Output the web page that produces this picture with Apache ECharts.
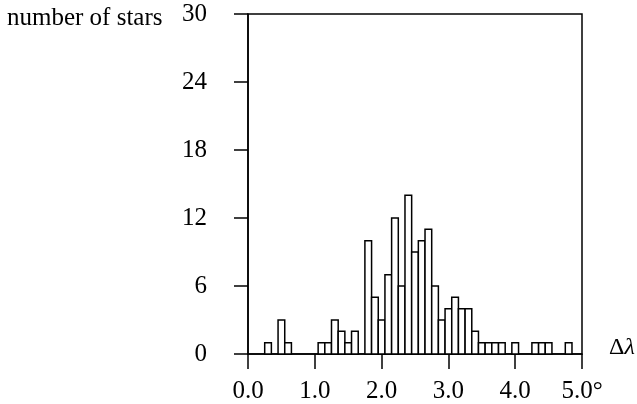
<!DOCTYPE html>
<html>
<head>
<meta charset="utf-8">
<script src="https://cdn.jsdelivr.net/npm/echarts@6/dist/echarts.min.js"></script>
<style>
  html, body { margin: 0; padding: 0; background: #fff; }
  #chart { width: 637px; height: 404px; }
</style>
</head>
<body>
<div id="chart"></div>
<script>
// Histogram of Δλ in 0.1° bins: bin centre and number of stars
const delta = [0.3, 0.5, 0.6, 1.1, 1.2, 1.3, 1.4, 1.5, 1.6, 1.8, 1.9, 2.0, 2.1, 2.2, 2.3, 2.4, 2.5, 2.6, 2.7, 2.8, 2.9, 3.0, 3.1, 3.2, 3.3, 3.4, 3.5, 3.6, 3.7, 3.8, 4.0, 4.3, 4.4, 4.5, 4.8];
const stars = [1, 3, 1, 1, 1, 3, 2, 1, 2, 10, 5, 3, 7, 12, 6, 14, 9, 10, 11, 6, 3, 4, 5, 4, 4, 2, 1, 1, 1, 1, 1, 1, 1, 1, 1];
const binWidth = 0.1;
const xTicks = ['0.0', '1.0', '2.0', '3.0', '4.0', '5.0°'];
const yTicks = [0, 6, 12, 18, 24, 30];

const serif = '"Liberation Serif", "DejaVu Serif", serif';
const chart = echarts.init(document.getElementById('chart'));

chart.setOption({
  animation: false,
  backgroundColor: '#fff',
  grid: {
    left: 248, right: 55, top: 14, bottom: 48,
    show: true, borderColor: '#000', borderWidth: 1.5, backgroundColor: 'transparent'
  },
  xAxis: {
    type: 'value', min: 0, max: 5, interval: 1,
    axisLine: { show: true, lineStyle: { color: '#000', width: 1.5 } },
    axisTick: { show: true, inside: false, length: 15, lineStyle: { color: '#000', width: 1.5 } },
    axisLabel: {
      margin: 25, color: '#000', fontFamily: serif, fontSize: 25,
      formatter: v => xTicks[Math.round(v)]
    },
    splitLine: { show: false }
  },
  yAxis: {
    type: 'value', min: 0, max: 30, interval: 6,
    axisLine: { show: true, lineStyle: { color: '#000', width: 1.5 } },
    axisTick: { show: true, inside: false, length: 14, lineStyle: { color: '#000', width: 1.5 } },
    axisLabel: {
      margin: 41, color: '#000', fontFamily: serif, fontSize: 25,
      formatter: v => String(yTicks[Math.round(v / 6)])
    },
    splitLine: { show: false }
  },
  graphic: [
    {
      type: 'text', left: 7, top: 6,
      style: { text: 'number of stars', fill: '#000', font: '25px ' + serif }
    },
    {
      type: 'text', left: 609, top: 336,
      style: {
        text: '{d|Δ}{l|λ}',
        rich: {
          d: { fontFamily: serif, fontSize: 24, fill: '#000' },
          l: { fontFamily: serif, fontSize: 24, fontStyle: 'italic', fill: '#000' }
        }
      }
    }
  ],
  series: [{
    type: 'custom',
    data: delta.map((x, i) => [x, stars[i]]),
    renderItem: (params, api) => {
      const x = api.value(0);
      const y = api.value(1);
      const p0 = api.coord([x - binWidth / 2, y]);
      const p1 = api.coord([x + binWidth / 2, 0]);
      return {
        type: 'rect',
        shape: { x: p0[0], y: p0[1], width: p1[0] - p0[0], height: p1[1] - p0[1] },
        style: { fill: '#fff', stroke: '#000', lineWidth: 1.5 }
      };
    }
  }]
});
</script>
</body>
</html>
